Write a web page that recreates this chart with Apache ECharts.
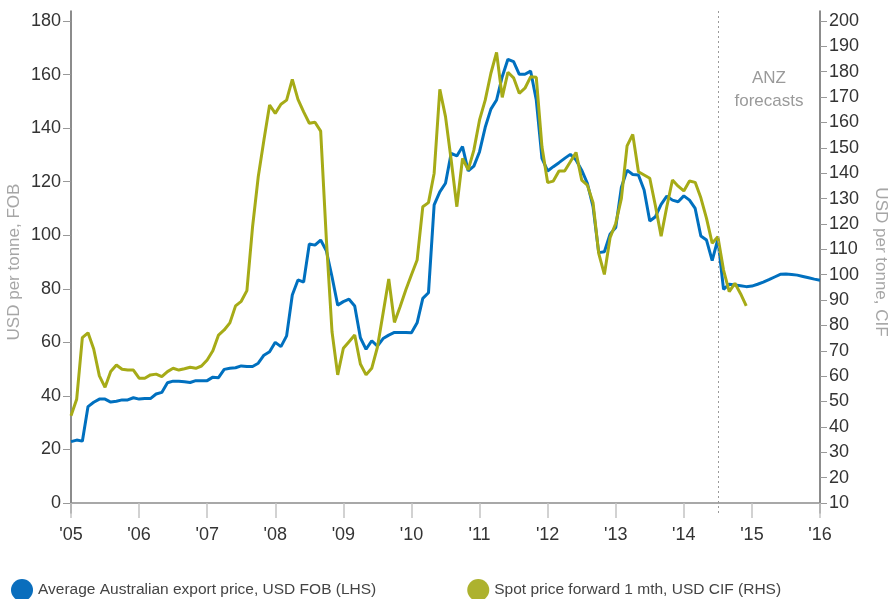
<!DOCTYPE html>
<html>
<head>
<meta charset="utf-8">
<script src="https://cdn.jsdelivr.net/npm/echarts@6/dist/echarts.min.js"></script>
<style>
html,body{margin:0;padding:0;background:#fff;}
#chart{width:893px;height:599px;}
</style>
</head>
<body>
<div id="chart"></div>
<script>
// Tick labels (one per year, January)
const yearLabels = ["'05","'06","'07","'08","'09","'10","'11","'12","'13","'14","'15","'16"];

// Monthly categories Jan 2005 .. Jan 2016
const months = [];
for (let y = 2005; y <= 2016; y++) {
  for (let m = 1; m <= 12; m++) {
    if (y === 2016 && m > 1) break;
    months.push(y + '-' + (m < 10 ? '0' + m : m));
  }
}
const forecastStart = '2014-07';

// Average Australian export price, USD FOB (LHS) – actual to Aug 2014, then ANZ forecasts
const exportPriceFOB = [
  22.9, 23.5, 23.1, 36.0, 37.6, 38.8, 38.8, 37.7, 38.0, 38.5, 38.5, 39.3,
  38.8, 39.0, 39.0, 40.7, 41.3, 44.9, 45.5, 45.5, 45.3, 45.0, 45.7, 45.7,
  45.7, 47.0, 46.8, 49.9, 50.3, 50.5, 51.2, 51.0, 51.0, 52.2, 55.2, 56.5,
  60.0, 58.4, 62.4, 77.7, 83.3, 82.5, 96.7, 96.3, 98.2, 94.2, 84.5, 73.9,
  75.2, 76.1, 73.6, 61.7, 57.4, 60.6, 58.6, 61.4, 62.7, 63.7, 63.7, 63.7,
  63.6, 67.3, 76.4, 78.5, 111.3, 116.2, 119.4, 130.6, 129.6, 133.1, 124.0, 125.8,
  131.2, 140.3, 147.1, 150.5, 159.2, 165.7, 164.8, 160.1, 160.1, 161.3, 150.5, 128.7,
  124.0, 125.6, 127.1, 128.7, 130.2, 128.1, 124.3, 119.4, 110.7, 93.5, 93.8, 100.4,
  102.9, 117.9, 124.3, 122.7, 122.5, 116.9, 105.3, 106.9, 111.5, 114.6, 113.1, 112.5,
  114.7, 113.1, 110.0, 99.7, 98.2, 90.5, 98.5, 79.8, 81.7, 81.4, 81.1, 80.8,
  81.0, 81.7, 82.5, 83.4, 84.4, 85.4, 85.5, 85.3, 85.1, 84.6, 84.1, 83.6,
  83.2
];

// Spot price forward 1 mth, USD CIF (RHS)
const spotPriceCIF = [
  44.4, 50.9, 75.2, 77.1, 70.7, 60.1, 55.6, 61.8, 64.4, 62.7, 62.4, 62.4,
  59.2, 59.2, 60.5, 60.8, 59.8, 61.8, 63.1, 62.4, 62.9, 63.5, 63.1, 64.0,
  66.4, 70.0, 76.2, 78.2, 81.0, 87.7, 89.5, 93.7, 118.9, 138.6, 153.1, 166.9,
  163.6, 167.2, 168.8, 177.0, 169.1, 164.2, 159.7, 160.1, 156.6, 114.0, 77.5, 60.5,
  71.0, 73.6, 76.2, 64.8, 60.5, 63.1, 71.4, 84.8, 98.3, 81.2, 87.4, 94.0,
  100.0, 105.8, 126.8, 128.4, 140.0, 173.1, 162.3, 145.2, 126.8, 145.8, 141.3, 149.1,
  161.0, 168.8, 179.4, 187.6, 169.9, 179.8, 177.6, 171.5, 173.5, 178.0, 177.8, 150.4,
  136.3, 136.9, 140.9, 140.9, 144.5, 148.2, 137.3, 135.3, 128.4, 108.4, 100.1, 114.6,
  120.2, 130.1, 150.8, 155.3, 140.6, 139.3, 138.0, 127.1, 115.2, 126.8, 137.3, 134.9,
  133.0, 136.9, 136.4, 130.3, 122.2, 112.4, 115.0, 101.8, 93.3, 96.6, 92.5, 87.7
];

const FONT = "'Liberation Sans', Arial, sans-serif";
const BLUE = '#0070bf';
const GREEN = '#a6ab17';

const chart = echarts.init(document.getElementById('chart'), null, {renderer: 'canvas'});
const yearTick = (i) => i % 12 === 0;

chart.setOption({
  animation: false,
  textStyle: {fontFamily: FONT},
  grid: [
    {left: 71, right: 73, top: 21, bottom: 96, containLabel: false, outerBoundsMode: 'none'},
    {left: 71, right: 73, top: 11, bottom: 86, containLabel: false, outerBoundsMode: 'none'}
  ],
  legend: {
    data: [
      'Average Australian export price, USD FOB (LHS)',
      'Spot price forward 1 mth, USD CIF (RHS)'
    ],
    left: 6,
    top: 574,
    icon: 'circle',
    itemWidth: 22,
    itemHeight: 22,
    itemGap: 91,
    textStyle: {fontSize: 15.5, color: '#444', fontFamily: FONT}
  },
  xAxis: [
    {
      type: 'category', gridIndex: 0, data: months, boundaryGap: false,
      axisLine: {lineStyle: {color: '#8c8c8c', width: 1.5}},
      axisTick: {interval: yearTick, length: 15, lineStyle: {color: '#c4c4c4', width: 1.5}},
      axisLabel: {
        interval: yearTick, margin: 23, color: '#333', fontSize: 18,
        formatter: (v, i) => yearLabels[Math.round(i / 12)]
      },
      splitLine: {show: false}
    },
    {type: 'category', gridIndex: 1, data: months, boundaryGap: false, show: false}
  ],
  yAxis: [
    {
      type: 'value', gridIndex: 0, position: 'left', min: 0, max: 180, interval: 20,
      axisLine: {show: false},
      axisTick: {show: true, length: 8, lineStyle: {color: '#999'}},
      axisLabel: {margin: 10, color: '#333', fontSize: 18},
      splitLine: {show: false},
      name: 'USD per tonne, FOB', nameLocation: 'middle', nameGap: 48, nameMoveOverlap: false,
      nameTextStyle: {color: '#a6a6a6', fontSize: 17}
    },
    {
      type: 'value', gridIndex: 0, position: 'right', min: 10, max: 200, interval: 10,
      axisLine: {show: false},
      axisTick: {show: true, length: 7, lineStyle: {color: '#999'}},
      axisLabel: {margin: 9, color: '#333', fontSize: 18},
      splitLine: {show: false},
      name: 'USD per tonne, CIF', nameLocation: 'middle', nameGap: 52, nameRotate: -90,
      nameTextStyle: {color: '#a6a6a6', fontSize: 17}
    },
    {
      type: 'value', gridIndex: 1, position: 'left', min: 0, max: 1,
      axisLine: {show: true, lineStyle: {color: '#666', width: 1.5}},
      axisTick: {show: false}, axisLabel: {show: false}, splitLine: {show: false}
    },
    {
      type: 'value', gridIndex: 1, position: 'right', min: 0, max: 1,
      axisLine: {show: true, lineStyle: {color: '#666', width: 1.5}},
      axisTick: {show: false}, axisLabel: {show: false}, splitLine: {show: false}
    }
  ],
  series: [
    {
      name: 'Average Australian export price, USD FOB (LHS)',
      type: 'line', xAxisIndex: 0, yAxisIndex: 0,
      data: exportPriceFOB, symbol: 'none', smooth: false,
      lineStyle: {color: BLUE, width: 3}, itemStyle: {color: '#0a6ebd'}
    },
    {
      name: 'Spot price forward 1 mth, USD CIF (RHS)',
      type: 'line', xAxisIndex: 0, yAxisIndex: 1,
      data: spotPriceCIF, symbol: 'none', smooth: false,
      lineStyle: {color: GREEN, width: 3}, itemStyle: {color: '#adb22e'}
    },
    {
      name: 'forecast marker', type: 'line', xAxisIndex: 1, yAxisIndex: 2,
      data: [], symbol: 'none',
      markLine: {
        silent: true, symbol: 'none', animation: false,
        label: {show: false},
        lineStyle: {color: '#9a9a9a', type: [2, 3], width: 1},
        data: [{xAxis: forecastStart}]
      }
    }
  ],
  graphic: [
    {
      type: 'text', x: 769, y: 67, silent: true,
      style: {
        text: 'ANZ\nforecasts', fill: '#9a9a9a',
        font: '17px ' + FONT, align: 'center', verticalAlign: 'top', lineHeight: 23
      }
    }
  ]
});
</script>
</body>
</html>
